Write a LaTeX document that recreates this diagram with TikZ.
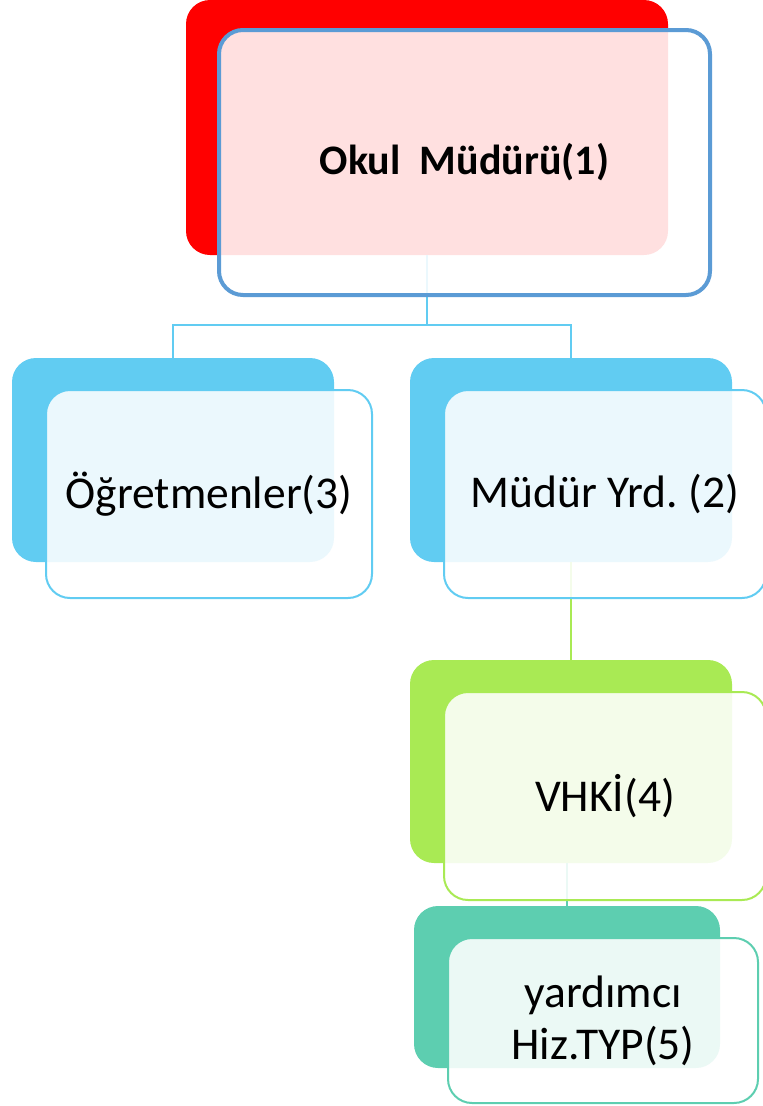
\documentclass[tikz,border=0pt]{standalone}
\usepackage{fontspec}
\setmainfont{Carlito}
\definecolor{okulred}{RGB}{255,0,0}
\definecolor{okulblue}{RGB}{91,155,213}
\definecolor{kadrocyan}{RGB}{97,204,242}
\definecolor{vhkigreen}{RGB}{169,234,84}
\definecolor{typteal}{RGB}{93,206,176}
\tikzset{
	backbox/.style={rounded corners=24pt,inner sep=0pt,fill=#1},
	frontbox/.style={rounded corners=24pt,inner sep=0pt,draw=#1,line width=2pt,
		fill=white,fill opacity=.88,text opacity=1,align=center,
		font=\fontsize{45.5}{52}\selectfont},
	link/.style={line width=2.5pt,draw=#1},
}
\frenchspacing
\begin{document}
\begin{tikzpicture}[x=1pt,y=-1pt]
		\useasboundingbox (0,0) rectangle (763,1106);
		% back boxes
		\node[backbox=okulred,minimum width=482pt,minimum height=255pt] (okulB) at (427,127.5) {};
		\node[backbox=kadrocyan,minimum width=322pt,minimum height=204pt] (ogrtB) at (173,460) {};
		\node[backbox=kadrocyan,minimum width=322pt,minimum height=204pt] (yrdB) at (571,460) {};
		\node[backbox=vhkigreen,minimum width=322pt,minimum height=203pt] (vhkiB) at (571,761.5) {};
		\node[backbox=typteal,minimum width=306pt,minimum height=162pt] (typB) at (567,987) {};
		% connectors
		\coordinate (split) at (427,325);
		\draw[link=kadrocyan] (okulB.south)--(split)-|(ogrtB.north);
		\draw[link=kadrocyan] (split)-|(yrdB.north);
		\draw[link=vhkigreen] (yrdB.south)--(vhkiB.north);
		\draw[link=typteal] (typB.north|-vhkiB.south)--(typB.north);
		% front boxes
		\node[frontbox=okulblue,line width=4pt,minimum width=491pt,minimum height=265pt,
			font=\fontsize{42}{50}\selectfont\bfseries] (okul) at (464.5,162.5) {Okul\ \ Müdürü(1)};
		\node[frontbox=kadrocyan,minimum width=326pt,minimum height=208pt] (ogrt) at (209,494) {Öğretmenler(3)};
		\node[frontbox=kadrocyan,minimum width=322pt,minimum height=208pt] (yrd) at (605,494) {Müdür Yrd. (2)};
		\node[frontbox=vhkigreen,minimum width=322pt,minimum height=208pt] (vhki) at (605,796) {VHKİ(4)};
		\node[frontbox=typteal,minimum width=310pt,minimum height=165pt] (typ) at (603,1020.5) {yardımcı\\Hiz.TYP(5)};
\end{tikzpicture}
\end{document}
